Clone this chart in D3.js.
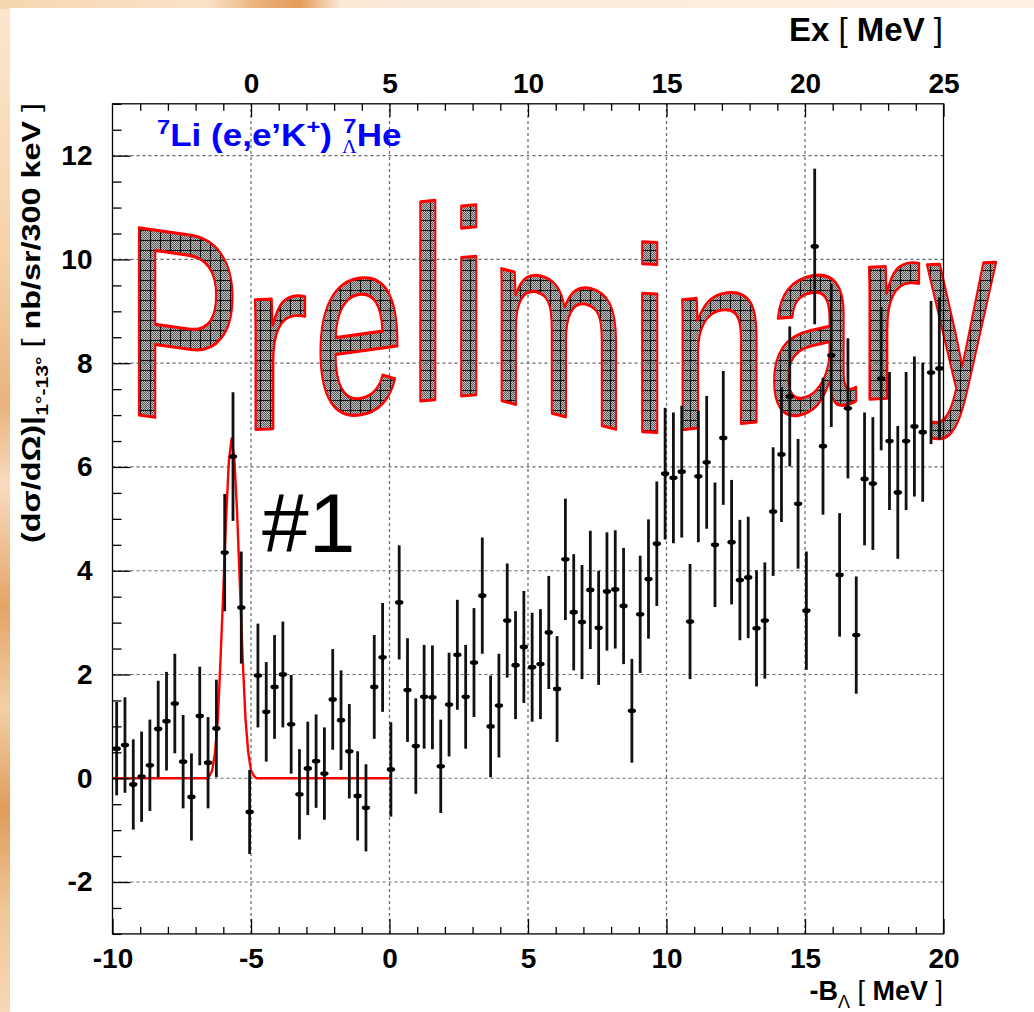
<!DOCTYPE html>
<html>
<head>
<meta charset="utf-8">
<script src="https://cdn.jsdelivr.net/npm/d3@7"></script>
<style>
  html, body { margin: 0; padding: 0; background: #f3d2a9; overflow: hidden; }
  svg { display: block; }
</style>
</head>
<body>
<script>
// -B_Lambda spectrum, 300 keV bins from -10 to 20 MeV
const xRange = [-10, 20];
const binWidth = 0.3;

const counts = [
  0.57, 0.64, -0.12, 0.03, 0.25, 0.95, 1.10, 1.44, 0.32, -0.36,
  1.20, 0.30, 0.96, 4.35, 6.20, 3.29, -0.65, 1.98, 1.28, 1.76,
  2.00, 1.04, -0.31, 0.19, 0.33, 0.09, 1.52, 1.12, 0.52, -0.34,
  -0.57, 1.76, 2.33, 0.17, 3.39, 1.70, 0.62, 1.57, 1.56, 0.23,
  1.42, 2.38, 1.57, 2.23, 3.52, 1.00, 1.40, 3.04, 2.18, 2.53,
  2.14, 2.20, 2.81, 1.72, 4.22, 3.20, 3.01, 3.63, 2.90, 3.60,
  3.64, 3.32, 1.30, 3.16, 3.84, 4.52, 5.87, 5.79, 5.91, 3.02,
  5.82, 6.09, 4.50, 6.56, 4.55, 3.82, 3.87, 2.89, 3.04, 5.14,
  6.24, 7.36, 5.29, 3.23, 10.25, 6.40, 8.15, 3.92, 7.13, 2.76,
  5.77, 5.68, 7.70, 6.50, 5.51, 6.50, 6.78, 6.67, 7.82, 7.90
];

const errors = [
  0.90, 0.92, 0.87, 0.87, 0.88, 0.93, 0.95, 0.96, 0.90, 0.84,
  0.95, 0.88, 0.94, 1.13, 1.24, 1.08, 0.81, 1.00, 0.96, 1.00,
  1.02, 0.95, 0.87, 0.90, 0.90, 0.89, 0.97, 0.96, 0.91, 0.86,
  0.84, 1.00, 1.05, 0.91, 1.10, 1.00, 0.92, 1.00, 1.00, 0.90,
  1.00, 1.06, 1.00, 1.05, 1.12, 0.98, 1.00, 1.10, 1.04, 1.08,
  1.05, 1.06, 1.09, 1.02, 1.17, 1.12, 1.10, 1.14, 1.10, 1.14,
  1.14, 1.12, 1.00, 1.13, 1.15, 1.20, 1.27, 1.26, 1.27, 1.11,
  1.27, 1.28, 1.20, 1.29, 1.20, 1.16, 1.17, 1.12, 1.12, 1.24,
  1.30, 1.35, 1.25, 1.14, 1.50, 1.32, 1.38, 1.19, 1.35, 1.13,
  1.28, 1.28, 1.38, 1.33, 1.28, 1.33, 1.35, 1.34, 1.38, 1.37
];

// fitted peak #1 (red curve)
const fitX = [-10, -6.6, -6.5, -6.4, -6.3, -6.2, -6.1, -6.0, -5.9, -5.8, -5.7,
  -5.6, -5.5, -5.4, -5.3, -5.2, -5.1, -5.0, -4.9, -4.8, 0];
const fitY = [0, 0, 0.05, 0.15, 0.5, 1.1, 2.3, 3.6, 5.0, 6.1, 6.55,
  6.15, 5.1, 3.7, 2.3, 1.15, 0.5, 0.15, 0.05, 0, 0];

const xTicks = [-10, -5, 0, 5, 10, 15, 20];
const yTicks = [-2, 0, 2, 4, 6, 8, 10, 12];
const exTicks = [0, 5, 10, 15, 20, 25];

const FONT = "'Liberation Sans', Arial, Helvetica, sans-serif";

const svg = d3.select("body").append("svg")
  .attr("width", 1034)
  .attr("height", 1012);

const defs = svg.append("defs");

// slide background edges
const gl = defs.append("linearGradient").attr("id", "leftEdge")
  .attr("x1", 0).attr("y1", 0).attr("x2", 0).attr("y2", 1);
[[0, "#fbe7d0"], [0.25, "#f6d3a8"], [0.4, "#e9b27c"], [0.48, "#f8dcbf"],
 [0.6, "#e5a466"], [0.7, "#f3cfa4"], [0.8, "#df9c5c"], [0.9, "#f0c796"], [1, "#f6d8b6"]]
  .forEach(([o, c]) => gl.append("stop").attr("offset", o).attr("stop-color", c));
const gt = defs.append("linearGradient").attr("id", "topEdge");
[[0, "#f6d6b0"], [0.2, "#fae3c8"], [0.25, "#eab07a"], [0.29, "#e49c5a"], [0.33, "#fbe9d6"], [1, "#fdf0e2"]]
  .forEach(([o, c]) => gt.append("stop").attr("offset", o).attr("stop-color", c));

svg.append("rect").attr("width", 1034).attr("height", 1012).attr("fill", "url(#leftEdge)");
svg.append("rect").attr("x", 0).attr("width", 1034).attr("height", 9).attr("fill", "url(#topEdge)");
svg.append("rect").attr("x", 10).attr("y", 8).attr("width", 1024).attr("height", 1004).attr("fill", "#fff");

// hatch for the "Preliminary" stamp
const dither = defs.append("pattern").attr("id", "dither")
  .attr("width", 2).attr("height", 2).attr("patternUnits", "userSpaceOnUse");
dither.append("rect").attr("width", 2).attr("height", 2).attr("fill", "#c4c4c4");
dither.append("rect").attr("width", 1).attr("height", 1).attr("fill", "#555");
dither.append("rect").attr("x", 1).attr("y", 1).attr("width", 1).attr("height", 1).attr("fill", "#555");
const hatch = defs.append("pattern").attr("id", "hatch")
  .attr("width", 10).attr("height", 10).attr("patternUnits", "userSpaceOnUse");
hatch.append("rect").attr("width", 10).attr("height", 10).attr("fill", "url(#dither)");
hatch.append("path").attr("d", "M0,0.5H10M0.5,0V10").attr("stroke", "#111").attr("stroke-width", 1);

// scales
const x = d3.scaleLinear().domain(xRange).range([112.5, 943.5]);
const ex = d3.scaleLinear().domain([xRange[0] + 5, xRange[1] + 5]).range([112.5, 943.5]);
const y = d3.scaleLinear().domain([-3, 13]).range([933.9, 103.8]);

// Preliminary (drawn under the plot, like the slide overlay)
const letters = [
  { c: "P", x: 138, b: 413, fs: 272, h: 176, sk: 8, lsb: 0.077 },
  { c: "r", x: 255, b: 430, fs: 246, h: 200, sk: -2, lsb: 0.066 },
  { c: "e", x: 320, b: 419, fs: 250, h: 164, sk: -8, lsb: 0.04 },
  { c: "l", x: 420, b: 402, fs: 275, h: 172, sk: -5, lsb: 0.066 },
  { c: "i", x: 461, b: 397, fs: 262, h: 172, sk: -5, lsb: 0.066 },
  { c: "m", x: 501, b: 398, fs: 250, h: 164, sk: 14, lsb: 0.066 },
  { c: "i", x: 642, b: 431, fs: 262, h: 172, sk: 3, lsb: 0.066 },
  { c: "n", x: 682, b: 431, fs: 246, h: 175, sk: -6, lsb: 0.066 },
  { c: "a", x: 773, b: 419, fs: 250, h: 160, sk: -11, lsb: 0.036 },
  { c: "r", x: 869, b: 400, fs: 250, h: 200, sk: -3, lsb: 0.066 },
  { c: "y", x: 928, b: 390, fs: 237, h: 140, sk: -2, lsb: 0.01 }
];
const letterTransform = d => `translate(${d.x - d.lsb * d.h},${d.b}) skewY(${d.sk}) scale(${d.h / d.fs},1)`;

const clip = defs.append("clipPath").attr("id", "prelimClip");
clip.selectAll("text").data(letters).enter().append("text")
  .attr("transform", letterTransform)
  .attr("font-family", FONT)
  .attr("font-size", d => d.fs)
  .text(d => d.c);

svg.append("rect")
  .attr("x", 100).attr("y", 180).attr("width", 920).attr("height", 290)
  .attr("fill", "url(#hatch)")
  .attr("clip-path", "url(#prelimClip)");

svg.append("g").selectAll("text").data(letters).enter().append("text")
  .attr("transform", letterTransform)
  .attr("font-family", FONT)
  .attr("font-size", d => d.fs)
  .attr("fill", "none")
  .attr("stroke", "#ff0000")
  .attr("stroke-width", 2.6)
  .attr("stroke-linejoin", "round")
  .attr("vector-effect", "non-scaling-stroke")
  .text(d => d.c);

// grid
const grid = svg.append("g")
  .attr("stroke", "#666")
  .attr("stroke-width", 1.2)
  .attr("stroke-dasharray", "3,3");
grid.selectAll(".gx").data(xTicks.slice(1, -1)).enter().append("line")
  .attr("x1", d => x(d)).attr("x2", d => x(d))
  .attr("y1", y.range()[0]).attr("y2", y.range()[1]);
grid.selectAll(".gy").data(yTicks).enter().append("line")
  .attr("y1", d => y(d)).attr("y2", d => y(d))
  .attr("x1", x.range()[0]).attr("x2", x.range()[1]);

// fit
svg.append("path")
  .datum(fitX.map((v, i) => [v, fitY[i]]))
  .attr("fill", "none")
  .attr("stroke", "#ff0000")
  .attr("stroke-width", 2.4)
  .attr("stroke-linejoin", "round")
  .attr("d", d3.line().x(d => x(d[0])).y(d => y(d[1])));

// data points with error bars
const points = counts.map((v, i) => ({
  x: xRange[0] + binWidth * (i + 0.5),
  v: v,
  e: errors[i]
}));
const pts = svg.append("g");
pts.selectAll("line").data(points).enter().append("line")
  .attr("x1", d => x(d.x)).attr("x2", d => x(d.x))
  .attr("y1", d => y(d.v - d.e)).attr("y2", d => y(d.v + d.e))
  .attr("stroke", "#111")
  .attr("stroke-width", 2.8);
pts.selectAll("ellipse").data(points).enter().append("ellipse")
  .attr("cx", d => x(d.x)).attr("cy", d => y(d.v))
  .attr("rx", 4.2).attr("ry", 2.4)
  .attr("fill", "#000");

// axes
function styleAxis(g, size) {
  g.select(".domain").remove();
  g.selectAll("line").attr("stroke", "#000").attr("stroke-width", 1.3);
  g.selectAll("text")
    .attr("font-family", FONT)
    .attr("font-weight", "bold")
    .attr("font-size", size)
    .attr("fill", "#000");
}

const minorX = d3.range(-9, 20, 1).filter(v => v % 5 !== 0);
svg.append("g").attr("transform", `translate(0,${y.range()[0]})`)
  .call(d3.axisBottom(x).tickValues(minorX).tickFormat("").tickSize(-7).tickSizeOuter(0))
  .call(g => styleAxis(g, 28));
svg.append("g").attr("transform", `translate(0,${y.range()[0]})`)
  .call(d3.axisBottom(x).tickValues(xTicks).tickSize(-15).tickSizeOuter(0).tickPadding(14).tickFormat(d3.format("d")))
  .call(g => styleAxis(g, 28))
  .call(g => g.selectAll("text").text(d => d < 0 ? "-" + Math.abs(d) : d));

const minorY = d3.range(-3, 13.01, 0.5).filter(v => Math.abs(v % 2) !== 0);
svg.append("g").attr("transform", `translate(${x.range()[0]},0)`)
  .call(d3.axisLeft(y).tickValues(minorY).tickFormat("").tickSize(-9).tickSizeOuter(0))
  .call(g => styleAxis(g, 28));
svg.append("g").attr("transform", `translate(${x.range()[0]},0)`)
  .call(d3.axisLeft(y).tickValues(yTicks).tickSize(-18).tickSizeOuter(0).tickPadding(20))
  .call(g => styleAxis(g, 28))
  .call(g => g.selectAll("text").text(d => d < 0 ? "-" + Math.abs(d) : d));

const minorEx = d3.range(-4, 25, 1).filter(v => v % 5 !== 0);
svg.append("g").attr("transform", `translate(0,${y.range()[1]})`)
  .call(d3.axisTop(ex).tickValues(minorEx).tickFormat("").tickSize(-7).tickSizeOuter(0))
  .call(g => styleAxis(g, 28));
svg.append("g").attr("transform", `translate(0,${y.range()[1]})`)
  .call(d3.axisTop(ex).tickValues(exTicks).tickSize(-13).tickSizeOuter(0).tickPadding(11))
  .call(g => styleAxis(g, 28));

// frame
svg.append("rect")
  .attr("x", x.range()[0]).attr("y", y.range()[1])
  .attr("width", x.range()[1] - x.range()[0])
  .attr("height", y.range()[0] - y.range()[1])
  .attr("fill", "none").attr("stroke", "#000").attr("stroke-width", 1.3);

// axis titles
const bottomTitle = svg.append("text")
  .attr("x", 943).attr("y", 1000)
  .attr("text-anchor", "end")
  .attr("font-family", FONT).attr("font-weight", "bold").attr("font-size", 27);
bottomTitle.append("tspan").text("-B");
bottomTitle.append("tspan").attr("dy", 8).attr("font-size", 18).attr("font-weight", "normal").text("Λ");
bottomTitle.append("tspan").attr("dy", -8).attr("font-weight", "normal").text(" [ ");
bottomTitle.append("tspan").text("MeV");
bottomTitle.append("tspan").attr("font-weight", "normal").text(" ]");

const topTitle = svg.append("text")
  .attr("x", 943).attr("y", 41)
  .attr("text-anchor", "end")
  .attr("font-family", FONT).attr("font-weight", "bold").attr("font-size", 33);
topTitle.append("tspan").text("Ex");
topTitle.append("tspan").attr("font-weight", "normal").text(" [ ");
topTitle.append("tspan").text("MeV");
topTitle.append("tspan").attr("font-weight", "normal").text(" ]");

const yTitle = svg.append("text")
  .attr("transform", "translate(40,103) rotate(-90)")
  .attr("text-anchor", "end")
  .attr("font-family", FONT).attr("font-weight", "bold").attr("font-size", 26)
  .attr("textLength", 440).attr("lengthAdjust", "spacingAndGlyphs");
yTitle.append("tspan").text("(dσ/dΩ)|");
yTitle.append("tspan").attr("dy", 8).attr("font-size", 17).text("1°-13°");
yTitle.append("tspan").attr("dy", -8).attr("font-weight", "normal").text(" [ ");
yTitle.append("tspan").text("nb/sr/300 keV");
yTitle.append("tspan").attr("font-weight", "normal").text(" ]");

// reaction label, slightly stretched like the original
const blue = "#0000ff";
const reacG = svg.append("g").attr("transform", "translate(157,146) scale(1.13,1)")
  .attr("fill", blue).attr("font-family", FONT).attr("font-weight", "bold");
const reac = reacG.append("text").attr("font-size", 31);
reac.append("tspan").attr("font-size", 21).attr("dy", -12).text("7");
reac.append("tspan").attr("dy", 12).text("Li (e,e’K");
reac.append("tspan").attr("font-size", 21).attr("dy", -12).text("+");
reac.append("tspan").attr("dy", 12).text(")");
const reacEnd = reac.node().getComputedTextLength() + 10;
reacG.append("text").attr("x", reacEnd).attr("y", -13).attr("font-size", 21).text("7");
reacG.append("text").attr("x", reacEnd - 1).attr("y", 7)
  .attr("font-family", "'Liberation Serif', serif").attr("font-weight", "normal").attr("font-size", 18)
  .text("Λ");
reacG.append("text").attr("x", reacEnd + 12).attr("font-size", 31).text("He");

// peak label
svg.append("text")
  .attr("x", 262).attr("y", 552)
  .attr("font-family", FONT).attr("font-size", 84)
  .attr("fill", "#000")
  .text("#1");
</script>
</body>
</html>
